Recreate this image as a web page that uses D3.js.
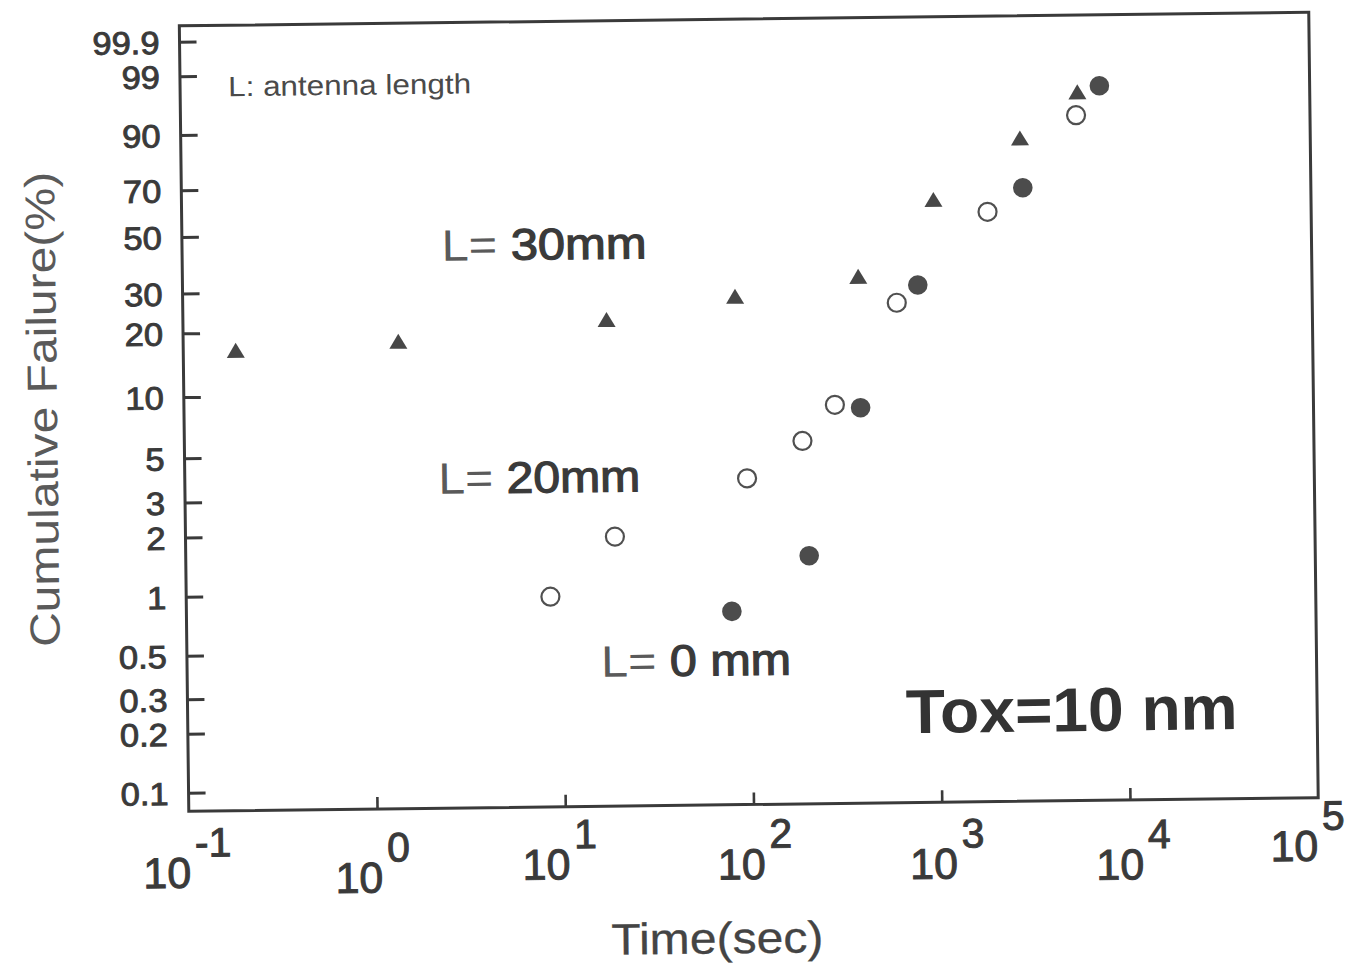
<!DOCTYPE html>
<html>
<head>
<meta charset="utf-8">
<script src="https://cdn.jsdelivr.net/npm/d3@7"></script>
<style>
  html, body { margin: 0; padding: 0; background: #fff; }
  svg { display: block; }
</style>
</head>
<body>
<script>
// Breakdown times (s) and cumulative failure (%) for three antenna lengths
const times30 = [0.19, 1.39, 17.8, 86, 389, 987, 2870, 5830];
const fail30  = [16.5, 17.8, 21.8, 27.2, 32.6, 61.9, 86.0, 96.5];
const times20 = [8.6, 19.1, 97, 192, 287, 621, 1910, 5720];
const fail20  = [0.95, 1.9, 3.67, 5.6, 8.4, 25.1, 56.5, 92.3];
const times0  = [79, 205, 393, 805, 2950, 7640];
const fail0   = [0.78, 1.48, 8.1, 29.9, 66.7, 97.3];

const yTicks      = [0.1, 0.2, 0.3, 0.5, 1, 2, 3, 5, 10, 20, 30, 50, 70, 90, 99, 99.9];
const yTickLabels = ["0.1", "0.2", "0.3", "0.5", "1", "2", "3", "5", "10", "20", "30", "50", "70", "90", "99", "99.9"];
const xTickExps   = [-1, 0, 1, 2, 3, 4, 5];

(function () {
const FONT = "'Liberation Sans', Arial, Helvetica, sans-serif";
const ink = "#3a3a3a";

// Weibull probability transform
const weib = p => Math.log(-Math.log(1 - p / 100));

const plotL = 184, plotR = 1313.5, plotT = 19, plotB = 804.5;

const x = d3.scaleLog().domain([0.1, 1e5]).range([plotL, plotR]);
const yw = d3.scaleLinear().domain([weib(0.1), weib(99.9)]).range([785.9, 34.9]);
const y = p => yw(weib(p));

const svg = d3.select("body").append("svg")
  .attr("width", 1352).attr("height", 965)
  .attr("font-family", FONT);
svg.append("rect").attr("width", 1352).attr("height", 965).attr("fill", "#fff");

// the whole sheet sits slightly tilted
const g = svg.append("g").attr("transform", "rotate(-0.69,750,410)");

function stretch(sel, f) {
  sel.each(function () {
    const w = this.getComputedTextLength();
    d3.select(this).attr("textLength", w * f).attr("lengthAdjust", "spacingAndGlyphs");
  });
}

// x ticks (inward)
const xAxis = g.append("g")
  .attr("transform", `translate(0,${plotB})`)
  .call(d3.axisBottom(x)
    .tickValues(xTickExps.slice(1, -1).map(e => Math.pow(10, e)))
    .tickSizeInner(-12).tickSizeOuter(0).tickFormat(() => ""));
xAxis.select(".domain").remove();
xAxis.selectAll("line").attr("stroke", ink).attr("stroke-width", 2.6);

// y ticks (inward) with labels
const yAxis = g.append("g")
  .attr("transform", `translate(${plotL},0)`)
  .call(d3.axisLeft(yw)
    .tickValues(yTicks.map(weib))
    .tickSizeInner(-17).tickSizeOuter(0).tickPadding(20)
    .tickFormat((d, i) => yTickLabels[i]));
yAxis.select(".domain").remove();
yAxis.selectAll("line").attr("stroke", ink).attr("stroke-width", 3);
yAxis.selectAll("text")
  .attr("font-family", FONT).attr("font-size", 32)
  .attr("fill", ink).attr("stroke", ink).attr("stroke-width", 0.9)
  .attr("dy", "0.36em");
stretch(yAxis.selectAll("text"), 1.08);

// frame
g.append("rect")
  .attr("x", plotL).attr("y", plotT)
  .attr("width", plotR - plotL).attr("height", plotB - plotT)
  .attr("fill", "none").attr("stroke", ink).attr("stroke-width", 3);

// x tick labels: 10 with superscript exponent
const xNudge = { "-1": [-2, 0], "0": [-5, 7], "1": [-6, -4], "2": [1, -2], "3": [5, 0], "4": [3, 3], "5": [-11, -13.5] };
const xl = g.append("g").selectAll("text").data(xTickExps).join("text")
  .attr("x", e => x(Math.pow(10, e)) + xNudge[e][0])
  .attr("y", e => 881 + xNudge[e][1])
  .attr("text-anchor", "middle")
  .attr("fill", ink).attr("stroke", ink).attr("stroke-width", 1);
xl.append("tspan").attr("font-size", 43).text("10");
xl.append("tspan").attr("font-size", 41).attr("dx", 4).attr("dy", -31).text(e => String(e));

// axis titles
g.append("text")
  .attr("x", 605).attr("y", 953)
  .attr("font-size", 44).attr("fill", "#444").attr("stroke", "#444").attr("stroke-width", 0.3)
  .attr("textLength", 212).attr("lengthAdjust", "spacingAndGlyphs")
  .text("Time(sec)");

g.append("text")
  .attr("transform", "translate(57,401) rotate(-90)")
  .attr("text-anchor", "middle")
  .attr("font-size", 42).attr("fill", "#5a5a5a")
  .attr("textLength", 475).attr("lengthAdjust", "spacingAndGlyphs")
  .text("Cumulative Failure(%)");

// annotations
g.append("text")
  .attr("x", 232).attr("y", 90)
  .attr("font-size", 28).attr("fill", "#4a4a4a")
  .attr("textLength", 243).attr("lengthAdjust", "spacingAndGlyphs")
  .text("L: antenna length");

function seriesLabel(xp, yp, len, val) {
  const t = g.append("text")
    .attr("x", xp).attr("y", yp)
    .attr("font-size", 44)
    .attr("textLength", len).attr("lengthAdjust", "spacingAndGlyphs");
  t.append("tspan").attr("fill", "#5a5a5a").text("L= ");
  t.append("tspan").attr("fill", ink).attr("stroke", ink).attr("stroke-width", 1.2).text(val);
}
seriesLabel(443.5, 257, 205, "30mm");
seriesLabel(437.5, 490, 202, "20mm");
seriesLabel(598, 675, 190, "0 mm");

g.append("text")
  .attr("x", 902).attr("y", 735)
  .attr("font-size", 62).attr("font-weight", "bold").attr("fill", "#333")
  .attr("textLength", 332).attr("lengthAdjust", "spacingAndGlyphs")
  .text("Tox=10 nm");

// markers
const pts = (ts, fs) => ts.map((t, i) => ({ t, f: fs[i] }));

g.append("g").selectAll("path").data(pts(times30, fail30)).join("path")
  .attr("transform", d => `translate(${x(d.t)},${y(d.f)})`)
  .attr("d", "M0,-8 L9,7 L-9,7 Z")
  .attr("fill", "#474747");

g.append("g").selectAll("circle").data(pts(times20, fail20)).join("circle")
  .attr("cx", d => x(d.t)).attr("cy", d => y(d.f)).attr("r", 9)
  .attr("fill", "#fff").attr("stroke", "#505050").attr("stroke-width", 2.2);

g.append("g").selectAll("circle").data(pts(times0, fail0)).join("circle")
  .attr("cx", d => x(d.t)).attr("cy", d => y(d.f)).attr("r", 9.8)
  .attr("fill", "#4c4c4c");
})();
</script>
</body>
</html>
